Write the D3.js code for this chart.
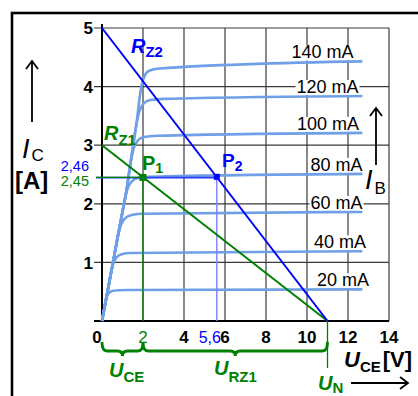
<!DOCTYPE html>
<html>
<head>
<meta charset="utf-8">
<script src="https://cdn.jsdelivr.net/npm/d3@7/dist/d3.min.js"></script>
<style>
  html, body { margin: 0; padding: 0; background: #fff; }
  svg { display: block; font-family: "Liberation Sans", Arial, sans-serif; }
</style>
</head>
<body>
<svg id="chart" width="418" height="396"></svg>
<script>
// Output characteristics I_C(U_CE) of a transistor, one curve per base current
const baseCurrents = ["20 mA", "40 mA", "60 mA", "80 mA", "100 mA", "120 mA", "140 mA"];
const curve20  = [[0,0],[0.1,0.19],[0.2,0.38],[0.32,0.47],[0.5,0.51],[0.8,0.525],[1.2,0.53],[12.7,0.54]];
const curve40  = [[0,0],[0.15,0.28],[0.3,0.56],[0.45,0.84],[0.55,0.98],[0.7,1.08],[0.95,1.14],[1.4,1.16],[12.7,1.19]];
const curve60  = [[0,0],[0.3,0.56],[0.6,1.12],[0.8,1.5],[0.95,1.66],[1.15,1.76],[1.45,1.81],[2.0,1.83],[12.7,1.86]];
const curve80  = [[0,0],[0.3,0.56],[0.6,1.12],[0.9,1.68],[1.1,2.06],[1.25,2.26],[1.45,2.38],[1.75,2.44],[2.3,2.46],[12.7,2.51]];
const curve100 = [[0,0],[0.3,0.56],[0.6,1.12],[0.9,1.68],[1.2,2.24],[1.4,2.72],[1.55,2.95],[1.75,3.08],[2.05,3.14],[2.7,3.16],[12.7,3.21]];
const curve120 = [[0,0],[0.3,0.56],[0.6,1.12],[0.9,1.68],[1.2,2.24],[1.45,2.83],[1.65,3.3],[1.8,3.55],[2.0,3.7],[2.35,3.77],[3.0,3.79],[12.7,3.84]];
const curve140 = [[0,0],[0.3,0.56],[0.6,1.12],[0.9,1.68],[1.2,2.24],[1.45,2.83],[1.7,3.42],[1.88,3.92],[2.05,4.16],[2.3,4.27],[2.8,4.31],[12.7,4.43]];
const curves = [curve20, curve40, curve60, curve80, curve100, curve120, curve140];

// Load lines and operating points
const loadRZ1 = [[0, 3], [11, 0]];
const loadRZ2 = [[0, 5], [11, 0]];
const pointP1 = [2, 2.45];
const pointP2 = [5.6, 2.46];
const supplyUN = 11;

// Axis ticks
const xTicks = [0, 2, 4, 6, 8, 10, 12, 14];
const yTicks = [1, 2, 3, 4, 5];
const xTickLabels = ["0", "2", "4", "6", "8", "10", "12", "14"];
const yTickLabels = ["1", "2", "3", "4", "5"];

// Layout
const labelCenterX = [343, 340, 336.5, 336.5, 328, 327.5, 322.5];
const GREEN = "#008000", BLUE = "#0000ff", CURVE = "#6f9fe6";

const svg = d3.select("#chart");
const x = d3.scaleLinear().domain([0, 14]).range([102, 389]);
const y = d3.scaleLinear().domain([0, 5]).range([321, 28]);

// Outer frame (runs past the right and bottom edges)
svg.append("rect").attr("x", 12).attr("y", 13).attr("width", 440).attr("height", 420)
  .attr("fill", "none").attr("stroke", "#000").attr("stroke-width", 2.6);

// Grid: horizontal lines with short ticks left of the axis
const grid = svg.append("g").attr("stroke", "#3a3a3a").attr("stroke-width", 1.2);
grid.selectAll("line.h").data(yTicks).join("line")
  .attr("x1", x(0) - 8).attr("x2", x(14))
  .attr("y1", d => y(d)).attr("y2", d => y(d));
grid.selectAll("line.v").data(xTicks.filter(d => d > 0)).join("line")
  .attr("x1", d => x(d)).attr("x2", d => x(d))
  .attr("y1", y(0)).attr("y2", y(5));

// Axes
const axes = svg.append("g").attr("stroke", "#000").attr("stroke-width", 2);
axes.append("line").attr("x1", x(0) - 8).attr("x2", x(14)).attr("y1", y(0)).attr("y2", y(0));
axes.append("line").attr("x1", x(0)).attr("x2", x(0)).attr("y1", y(0)).attr("y2", y(5) - 4);

// Tick labels
svg.append("g").selectAll("text").data(yTicks).join("text")
  .attr("x", x(0) - 9).attr("y", d => y(d)).attr("dy", "0.36em")
  .attr("text-anchor", "end").attr("font-size", 17).attr("font-weight", "bold")
  .text((d, i) => yTickLabels[i]);
svg.append("g").selectAll("text").data(xTicks).join("text")
  .attr("x", d => x(d) - (d === 0 ? 5 : 0)).attr("y", 343)
  .attr("text-anchor", "middle").attr("font-size", 17).attr("font-weight", d => d === 2 ? "normal" : "bold")
  .attr("fill", d => d === 2 ? GREEN : "#000")
  .text((d, i) => xTickLabels[i]);
svg.append("text").attr("x", x(pointP2[0]) - 7).attr("y", 343).attr("text-anchor", "middle")
  .attr("font-size", 16).attr("fill", BLUE).text("5,6");

// Base-current labels with white backing
const line = d3.line().x(d => x(d[0])).y(d => y(d[1])).curve(d3.curveMonotoneX);
const labels = svg.append("g");
baseCurrents.forEach((name, i) => {
  const c = curves[i];
  const last = c[c.length - 1];
  const t = labels.append("text").attr("x", labelCenterX[i]).attr("y", y(last[1]) - 3)
    .attr("text-anchor", "middle").attr("font-size", 18).text(name);
  const b = t.node().getBBox();
  labels.insert("rect", () => t.node()).attr("x", b.x - 1).attr("y", b.y + 3)
    .attr("width", b.width + 2).attr("height", b.height - 5).attr("fill", "#fff");
});

// Characteristic curves
svg.append("g").selectAll("path").data(curves).join("path")
  .attr("d", line).attr("fill", "none").attr("stroke", CURVE)
  .attr("stroke-width", 2.6).attr("stroke-linejoin", "round");

// Operating point guides
svg.append("line").attr("x1", x(pointP2[0])).attr("x2", x(pointP2[0]))
  .attr("y1", y(pointP2[1])).attr("y2", y(0)).attr("stroke", "#7f7fff").attr("stroke-width", 1.4);
svg.append("line").attr("x1", x(0) - 6).attr("x2", x(pointP2[0]))
  .attr("y1", y(pointP2[1]) + 0.8).attr("y2", y(pointP2[1]) + 0.8).attr("stroke", "#2a3cff").attr("stroke-width", 1.8);
svg.append("line").attr("x1", x(0) - 6).attr("x2", x(pointP1[0]))
  .attr("y1", y(pointP1[1])).attr("y2", y(pointP1[1])).attr("stroke", GREEN).attr("stroke-width", 1.2);
svg.append("line").attr("x1", x(pointP1[0])).attr("x2", x(pointP1[0]))
  .attr("y1", y(pointP1[1])).attr("y2", y(0)).attr("stroke", GREEN).attr("stroke-width", 1.3);
svg.append("line").attr("x1", x(supplyUN)).attr("x2", x(supplyUN))
  .attr("y1", y(0)).attr("y2", 368).attr("stroke", GREEN).attr("stroke-width", 1.3);

// Load lines
const straight = d3.line().x(d => x(d[0])).y(d => y(d[1]));
svg.append("path").attr("d", straight(loadRZ1)).attr("stroke", GREEN).attr("stroke-width", 2).attr("fill", "none");
svg.append("path").attr("d", straight(loadRZ2)).attr("stroke", BLUE).attr("stroke-width", 2).attr("fill", "none");

// Operating point markers
svg.append("rect").attr("x", x(pointP1[0]) - 3.5).attr("y", y(pointP1[1]) - 3.5)
  .attr("width", 7).attr("height", 7).attr("fill", GREEN);
svg.append("rect").attr("x", x(pointP2[0]) - 3).attr("y", y(pointP2[1]) - 3)
  .attr("width", 6).attr("height", 6).attr("fill", BLUE);

// Curly braces under the voltage axis
function brace(x0, x1, yb) {
  const p = d3.path(), xm = (x0 + x1) / 2, r = 5;
  p.moveTo(x0, yb - 9);
  p.quadraticCurveTo(x0, yb, x0 + r, yb);
  p.lineTo(xm - r, yb);
  p.quadraticCurveTo(xm, yb, xm, yb + 5);
  p.quadraticCurveTo(xm, yb, xm + r, yb);
  p.lineTo(x1 - r, yb);
  p.quadraticCurveTo(x1, yb, x1, yb - 9);
  return p.toString();
}
svg.append("path").attr("d", brace(x(0), x(pointP1[0]), 351)).attr("fill", "none")
  .attr("stroke", GREEN).attr("stroke-width", 2.8);
svg.append("path").attr("d", brace(x(pointP1[0]), x(supplyUN), 351)).attr("fill", "none")
  .attr("stroke", GREEN).attr("stroke-width", 2.8);

// Text helper: main symbol with subscript
function symbol(px, py, main, sub, opts) {
  const t = svg.append("text").attr("x", px).attr("y", py).attr("fill", opts.color || "#000")
    .attr("font-weight", opts.weight || "bold");
  t.append("tspan").attr("font-size", opts.size).attr("font-style", opts.italic ? "italic" : "normal").text(main);
  t.append("tspan").attr("font-size", opts.subSize).attr("dy", opts.subDy).attr("dx", opts.subDx || 0)
    .attr("font-style", "normal").text(sub);
  if (opts.tail) {
    t.append("tspan").attr("font-size", opts.size).attr("dy", -opts.subDy).attr("dx", opts.tailDx || 0).text(opts.tail);
  }
  return t;
}

symbol(131, 53, "R", "Z2", { color: BLUE, size: 20, subSize: 15, subDy: 4, italic: true });
symbol(104, 140, "R", "Z1", { color: GREEN, size: 20, subSize: 15, subDy: 5, italic: true });
symbol(142, 170, "P", "1", { color: GREEN, size: 20, subSize: 14, subDy: 3 });
symbol(222, 167, "P", "2", { color: BLUE, size: 19, subSize: 14, subDy: 4 });

symbol(22, 158, "I", "C", { size: 27, subSize: 17, subDy: 3, italic: true, weight: "normal", subDx: 2 });
svg.append("text").attr("x", 15).attr("y", 189).attr("font-size", 24).attr("font-weight", "bold").text("[A]");
symbol(365, 189, "I", "B", { size: 27, subSize: 17, subDy: 5, italic: true, weight: "normal", subDx: 2 });

svg.append("text").attr("x", x(pointP1[0]) - 54).attr("y", 170.5).attr("text-anchor", "end")
  .attr("font-size", 14.5).attr("fill", BLUE).text("2,46");
svg.append("text").attr("x", x(pointP1[0]) - 54).attr("y", 186).attr("text-anchor", "end")
  .attr("font-size", 14.5).attr("fill", GREEN).text("2,45");

symbol(109, 377, "U", "CE", { color: GREEN, size: 20, subSize: 15, subDy: 5, italic: true });
symbol(214, 375, "U", "RZ1", { color: GREEN, size: 20, subSize: 15, subDy: 7, italic: true });
symbol(318, 390, "U", "N", { color: GREEN, size: 20, subSize: 15, subDy: 3, italic: true });
symbol(344, 367, "U", "CE", { size: 22, subSize: 15, subDy: 5, italic: true, tail: "[V]", tailDx: 2 });

// Direction arrows
const arrows = svg.append("g").attr("stroke", "#000").attr("stroke-width", 1.8).attr("fill", "none");
arrows.append("path").attr("d", "M32,122 V61 M26,69 L32,61 L38,69");
arrows.append("path").attr("d", "M376,165 V108 M370,116 L376,108 L382,116");
arrows.append("path").attr("d", "M351,383 H408 M400,377 L408,383 L400,389");
</script>
</body>
</html>
